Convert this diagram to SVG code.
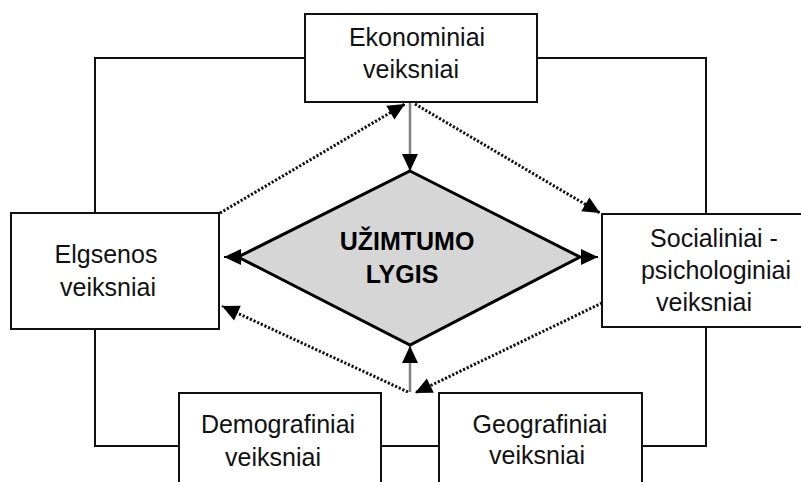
<svg xmlns="http://www.w3.org/2000/svg" width="801" height="482" viewBox="0 0 801 482">
  <style>
    .box { fill: #ffffff; stroke: #111111; stroke-width: 2; }
    .link { fill: none; stroke: #111111; stroke-width: 2; }
    .solid { fill: none; stroke: #808080; stroke-width: 2.5; }
    .dot { fill: none; stroke: #111111; stroke-width: 3; stroke-dasharray: 2.2 1.8; }
    .short { fill: none; stroke: #000000; stroke-width: 2; }
    .lbl { font-family: "Liberation Sans", Arial, sans-serif; font-size: 25px; fill: #111111; text-anchor: middle; }
    .core { font-family: "Liberation Sans", Arial, sans-serif; font-size: 25px; font-weight: bold; fill: #000000; text-anchor: middle; }
  </style>
  <defs>
    <marker id="tri" markerUnits="userSpaceOnUse" markerWidth="17" markerHeight="16" refX="17" refY="8" orient="auto" overflow="visible">
      <path d="M0,0 L17,8 L0,16 Z" fill="#000000" stroke="none"/>
    </marker>
  </defs>

  <rect width="801" height="482" fill="#ffffff"/>

  <!-- frame lines joining the outer factor boxes -->
  <g id="connectors">
    <polyline class="link" points="305,58 95,58 95,213"/>
    <polyline class="link" points="95,329 95,446 179,446"/>
    <line class="link" x1="381" y1="446" x2="439" y2="446"/>
    <polyline class="link" points="642,446 706,446 706,327"/>
    <polyline class="link" points="706,214 706,58 537,58"/>

    <!-- influence arrows -->
    <line class="solid" x1="410" y1="102" x2="410" y2="171" marker-end="url(#tri)"/>
    <line class="solid" x1="410" y1="392" x2="410" y2="346" marker-end="url(#tri)"/>
    <line class="dot" x1="220" y1="213" x2="405" y2="104" marker-end="url(#tri)"/>
    <line class="dot" x1="415" y1="104" x2="600" y2="213" marker-end="url(#tri)"/>
    <line class="dot" x1="602" y1="303" x2="415" y2="393" marker-end="url(#tri)"/>
    <line class="dot" x1="408" y1="392" x2="222" y2="306" marker-end="url(#tri)"/>
    <line class="short" x1="238" y1="257" x2="224" y2="257" marker-end="url(#tri)"/>
    <line class="short" x1="580" y1="257" x2="598" y2="257" marker-end="url(#tri)"/>
  </g>

  <g id="uzimtumo-lygis">
    <polygon points="410,171 580,257 410,345 238,257" fill="#d6d6d6" stroke="#000000" stroke-width="3" stroke-linejoin="miter"/>
    <text class="core" x="407" y="250">UŽIMTUMO</text>
    <text class="core" x="402" y="283">LYGIS</text>
  </g>

  <g id="ekonominiai">
    <rect class="box" x="305" y="14" width="232" height="88"/>
    <text class="lbl" x="417" y="46">Ekonominiai</text>
    <text class="lbl" x="411" y="78">veiksniai</text>
  </g>

  <g id="elgsenos">
    <rect class="box" x="11" y="213" width="208" height="116"/>
    <text class="lbl" x="106" y="263">Elgsenos</text>
    <text class="lbl" x="108" y="296">veiksniai</text>
  </g>

  <g id="socialiniai">
    <rect class="box" x="602" y="214" width="210" height="113"/>
    <text class="lbl" x="714" y="247">Socialiniai -</text>
    <text class="lbl" x="716" y="279">psichologiniai</text>
    <text class="lbl" x="704" y="311">veiksniai</text>
  </g>

  <g id="demografiniai">
    <rect class="box" x="179" y="393" width="202" height="100"/>
    <text class="lbl" x="278" y="433">Demografiniai</text>
    <text class="lbl" x="273" y="466">veiksniai</text>
  </g>

  <g id="geografiniai">
    <rect class="box" x="439" y="393" width="203" height="100"/>
    <text class="lbl" x="540" y="433">Geografiniai</text>
    <text class="lbl" x="537" y="464">veiksniai</text>
  </g>
</svg>
